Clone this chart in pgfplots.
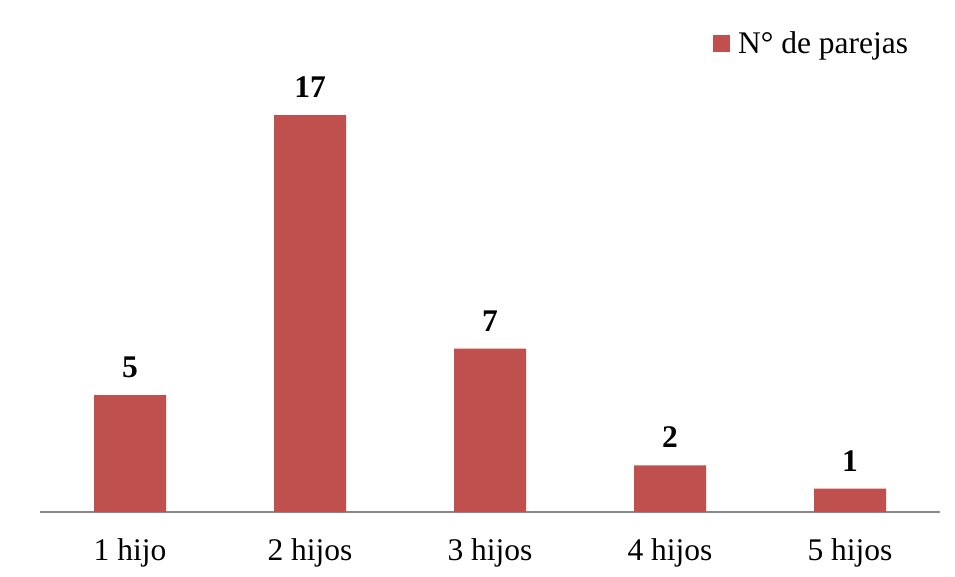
\documentclass[border=0pt]{standalone}
\usepackage{fontspec}
\setmainfont{Liberation Serif}
\usepackage{pgfplots}
\pgfplotsset{compat=1.18}
\definecolor{barred}{HTML}{C0504D}
\definecolor{axgray}{HTML}{898989}
\begin{document}
\begin{tikzpicture}
\useasboundingbox (0,0) rectangle (955bp,577bp);
\begin{axis}[
  at={(40bp,65bp)}, anchor=south west,
  scale only axis, width=900bp, height=467bp,
  xmin=-0.5, xmax=4.5, ymin=0, ymax=20,
  axis x line*=bottom, axis y line=none,
  x axis line style={draw=axgray, line width=1.3bp, -},
  xtick={0,1,2,3,4},
  xticklabels={1 hijo,2 hijos,3 hijos,4 hijos,5 hijos},
  major tick length=0pt,
  tick label style={font=\fontsize{31.5bp}{37bp}\selectfont},
  xticklabel style={yshift=-23bp},
  /pgf/number format/assume math mode=true,
  ybar, bar width=72bp,
  nodes near coords,
  every node near coord/.append style={font=\bfseries\fontsize{31.5bp}{37bp}\selectfont, yshift=14bp},
  legend style={at={(0.967,1.004)}, anchor=east, draw=none, fill=none,
    font=\fontsize{31.5bp}{37bp}\selectfont, inner sep=0pt},
  legend image code/.code={\fill[barred] (0bp,-8.5bp) rectangle (17bp,8.5bp); \path (23bp,0bp);},
  legend cell align=left,
]
\addplot[fill=barred, draw=none] coordinates {(0,5) (1,17) (2,7) (3,2) (4,1)};
\addlegendentry{N° de parejas}
\end{axis}
\end{tikzpicture}
\end{document}
